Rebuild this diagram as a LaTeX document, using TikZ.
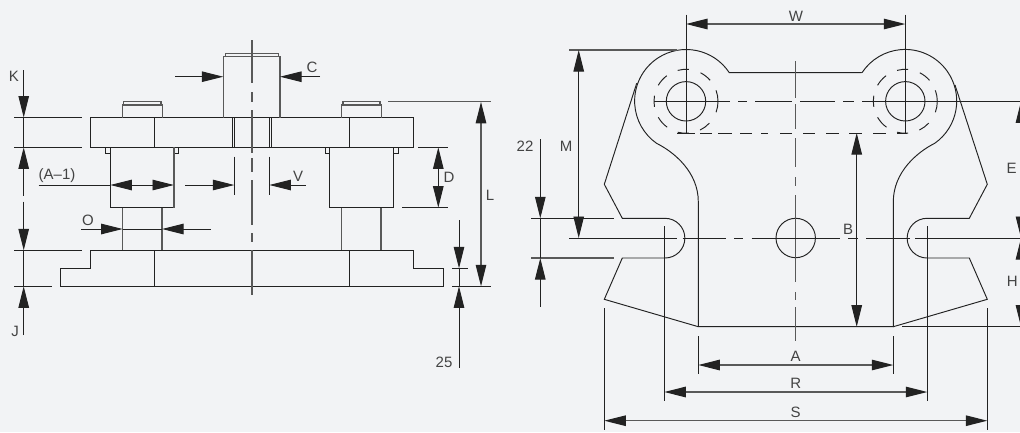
\documentclass[tikz,border=0pt]{standalone}
\usepackage{fontspec}
\setmainfont{Liberation Sans}
\usetikzlibrary{arrows.meta}
\definecolor{bgc}{HTML}{F2F3F5}
\definecolor{ink}{HTML}{222222}
\tikzset{
  ln/.style={draw=ink,line width=0.95pt,line join=miter},
  hv/.style={draw=ink!75,line width=1.15pt},
  tip/.style={-{Triangle[length=21.5pt,width=10.5pt,color=ink]}},
  tiptwo/.style={{Triangle[length=21.5pt,width=10.5pt,color=ink]}-{Triangle[length=21.5pt,width=10.5pt,color=ink]}},
  lbl/.style={text=ink!85,font=\fontsize{15}{15}\selectfont,inner sep=0pt}
}
\begin{document}
\begin{tikzpicture}[x=1pt,y=1pt,yscale=-1]
\fill[bgc] (0,0) rectangle (1020,432);
\useasboundingbox (0,0) rectangle (1020,432);
\clip (0,0) rectangle (1020,432);

% ---------- LEFT VIEW ----------
% plate
\draw[ln] (90.5,117.5) rectangle (413.3,147.4);
\draw[ln] (154.3,117.5)--(154.3,147.4) (349.3,117.5)--(349.3,147.4);
\draw[ln] (232.6,117.5)--(232.6,147.4) (234.7,117.5)--(234.7,147.4) (269.2,117.5)--(269.2,147.4) (271.3,117.5)--(271.3,147.4);
% top boss
\draw[hv] (223.3,117.5)--(223.3,56.7)--(280,56.7)--(280,117.5);
\draw[hv] (225.3,56.7)--(225.3,53.5)--(278.7,53.5)--(278.7,56.7);
% small bosses
\draw[hv] (122.3,117.5)--(122.3,105)--(162.3,105)--(162.3,117.5);
\draw[hv] (123.7,105)--(123.7,101.8)--(161,101.8)--(161,105);
\draw[hv] (341.3,117.5)--(341.3,105)--(381.3,105)--(381.3,117.5);
\draw[hv] (343,105)--(343,101.8)--(380,101.8)--(380,105);
% cylinders
\draw[ln] (110.3,147.4)--(110.3,207.7)--(174,207.7)--(174,147.4);
\draw[ln] (329.7,147.4)--(329.7,207.7)--(393.3,207.7)--(393.3,147.4);
\draw[ln] (105.7,147.4)--(105.7,153.7)--(110.3,153.7) (174,153.7)--(178.7,153.7)--(178.7,147.4);
\draw[ln] (325,147.4)--(325,153.7)--(329.7,153.7) (393.3,153.7)--(398,153.7)--(398,147.4);
% necks
\draw[hv] (122.7,207.7)--(122.7,250.3) (162,207.7)--(162,250.3) (341.7,207.7)--(341.7,250.3) (381,207.7)--(381,250.3);
% base
\draw[ln] (90.5,250.3)--(413.3,250.3)--(413.3,268.3)--(443.3,268.3)--(443.3,286.3)--(60,286.3)--(60,268.3)--(90.5,268.3)--cycle;
\draw[ln] (154.3,250.3)--(154.3,286.3) (349.3,250.3)--(349.3,286.3);
% centre line
\draw[hv] (252,40)--(252,83) (252,92)--(252,102) (252,110)--(252,153) (252,158)--(252,172) (252,180)--(252,225) (252,233)--(252,242) (252,250)--(252,295);

% K, J dims
\draw[ln] (14,117.5)--(82,117.5) (14,147.4)--(82,147.4) (14,250.3)--(82,250.3) (14,286.3)--(51.7,286.3);
\draw[ln,tip] (23.7,70)--(23.7,117.5);
\draw[ln] (23.7,117.5)--(23.7,147.4);
\draw[ln,tip] (23.7,195.7)--(23.7,147.4);
\draw[ln,tip] (23.7,201.7)--(23.7,250.3);
\draw[ln] (23.7,250.3)--(23.7,286.3);
\draw[ln,tip] (23.7,335)--(23.7,286.3);
\node[lbl] (kl) at (14,76) {K};
\node[lbl] (jl) at (15,331) {J};

% (A-1)
\draw[ln] (38.7,185)--(110.3,185);
\draw[ln,tiptwo] (110.3,185)--(174,185);
\draw[hv] (174,147.4)--(174,207.7);
\node[lbl] (al) at (57,176) {(A–1)};
% V
\draw[ln] (234.3,156.7)--(234.3,195) (269.3,156.7)--(269.3,195);
\draw[ln,tip] (185.3,185)--(234.3,185);
\draw[ln,tip] (305.7,185)--(269.3,185);
\node[lbl] (vl) at (298,176) {V};
% C
\draw[ln,tip] (175,76.7)--(223.3,76.7);
\draw[ln,tip] (320,76.7)--(280,76.7);
\node[lbl] (cl) at (312,67.3) {C};
% O
\draw[ln,tip] (81,229)--(122.7,229);
\draw[ln] (122.7,229)--(162,229);
\draw[ln,tip] (210.7,229)--(162,229);
\node[lbl] (ol) at (88,220) {O};
% D
\draw[ln] (418,147.4)--(447.7,147.4) (402,207.7)--(447.7,207.7);
\draw[ln,tiptwo] (438.3,147.4)--(438.3,207.7);
\node[lbl] (dl) at (449,177.7) {D};
% L
\draw[hv] (388.3,101.8)--(490.7,101.8);
\draw[ln] (452,286.3)--(490.7,286.3) (452,268.3)--(468.3,268.3);
\draw[hv,tiptwo] (481,101.8)--(481,286.3);
\node[lbl] (ll) at (490,195) {L};
% 25
\draw[ln,tip] (459,220)--(459,268.3);
\draw[ln] (459,268.3)--(459,286.3);
\draw[ln,tip] (459,367.7)--(459,286.3);
\node[lbl] (tl) at (444,362.3) {25};

% ---------- RIGHT VIEW ----------
% outline
\draw[ln] (861.7,72.7)--(729.3,72.7) arc[start angle=-33.4,end angle=-235,radius=51.6]
  .. controls (674,152) and (698.3,172) .. (698.3,201.7) -- (698.3,326.7) -- (893.3,326.7) -- (893.3,201.7)
  .. controls (893.3,172) and (917.4,152) .. (934.7,143.3)
  arc[start angle=55,end angle=-146.6,radius=51.6];
% wings
\draw[ln] (636.7,83.3)--(604.3,184.3)--(622.3,218.3)--(665,218.3) arc[start angle=-90,end angle=90,radius=19.85]--(622.3,258)--(604.3,299.3)--(698.3,326.7);
\draw[ln] (955,85)--(987.3,184.3)--(969.3,218.3)--(927,218.3) arc[start angle=-90,end angle=-270,radius=19.85]--(969.3,258)--(987.3,299.3)--(893.3,326.7);
% eyes
\draw[ln] (686,101.3) circle[radius=19.7];
\draw[ln] (905.3,101.3) circle[radius=19.7];
\draw[ln] (795.7,238) circle[radius=19.7];
\foreach \cx in {686,905.3}{
  \foreach \a/\b in {-105/-85,-63/-41,-20/20,43/64,85/105,126/150,170/190,-150/-127}{
    \draw[ln] ({\cx+32*cos(\a)},{101.3+32*sin(\a)}) arc[start angle=\a,end angle=\b,radius=32];
  }
}
% eye verticals
\draw[ln] (686,14.7)--(686,133) (905.3,14.7)--(905.3,133);
% horizontal eye axis
\draw[ln] (654,101.3)--(730,101.3) (738,101.3)--(747,101.3) (755,101.3)--(792,101.3) (800,101.3)--(835,101.3) (843,101.3)--(854,101.3) (862,101.3)--(1020,101.3);
% dashed y=133
\draw[ln] (677,133)--(695,133) (700,133)--(712,133) (718,133)--(732,133) (740,133)--(752,133) (761,133)--(768,133) (780,133)--(792,133) (803,133)--(815,133) (826,133)--(839,133) (849,133)--(862,133) (873,133)--(886,133) (897,133)--(907,133);
% vertical centre line
\draw[hv] (795.7,61)--(795.7,98) (795.7,104)--(795.7,129) (795.7,138)--(795.7,167) (795.7,177)--(795.7,186) (795.7,195)--(795.7,282) (795.7,292)--(795.7,300) (795.7,307)--(795.7,341);
% horizontal slot axis
\draw[ln] (569.3,238)--(676.7,238) (682.7,238)--(726,238) (734,238)--(743,238) (751.7,238)--(840,238) (848,238)--(858,238) (866,238)--(910,238) (915,238)--(1020,238);
% W
\draw[hv,tiptwo] (686,24)--(905.3,24);
\node[lbl] (wl) at (796,16) {W};
% M
\draw[hv] (569.3,50)--(676.7,50);
\draw[ln,tiptwo] (578.7,50)--(578.7,238);
\node[lbl] (ml) at (566,146) {M};
% 22
\draw[ln] (531,218.3)--(614,218.3);
\draw[hv] (531,258)--(614,258);
\draw[ln,tip] (540.3,139.3)--(540.3,218.3);
\draw[ln] (540.3,218.3)--(540.3,258);
\draw[ln,tip] (540.3,306.7)--(540.3,258);
\node[lbl] (nl) at (525,146) {22};
% B
\draw[ln,tiptwo] (856.7,133)--(856.7,326.7);
\node[lbl] (bl) at (848,229) {B};
% A, R, S
\draw[ln] (698.3,336)--(698.3,374) (893.3,336)--(893.3,374);
\draw[hv,tiptwo] (698.3,365)--(893.3,365);
\node[lbl] (all) at (795.7,356.2) {A};
\draw[ln] (664.3,226)--(664.3,401) (927.3,226)--(927.3,401);
\draw[hv,tiptwo] (664.3,392)--(927.3,392);
\node[lbl] (rl) at (795.7,383.6) {R};
\draw[ln] (604.3,308.3)--(604.3,430) (987.3,308.3)--(987.3,430);
\draw[hv,tiptwo] (604.3,420.7)--(987.3,420.7);
\node[lbl] (sl) at (795.7,412) {S};
% E, H
\draw[ln] (902.3,326.7)--(1020,326.7);
\draw[ln,tiptwo] (1021,101.3)--(1021,238);
\draw[ln,tiptwo] (1021,238)--(1021,326.7);
\node[lbl] (el) at (1011.7,168) {E};
\node[lbl] (hl) at (1012.3,281.7) {H};
\end{tikzpicture}
\end{document}
